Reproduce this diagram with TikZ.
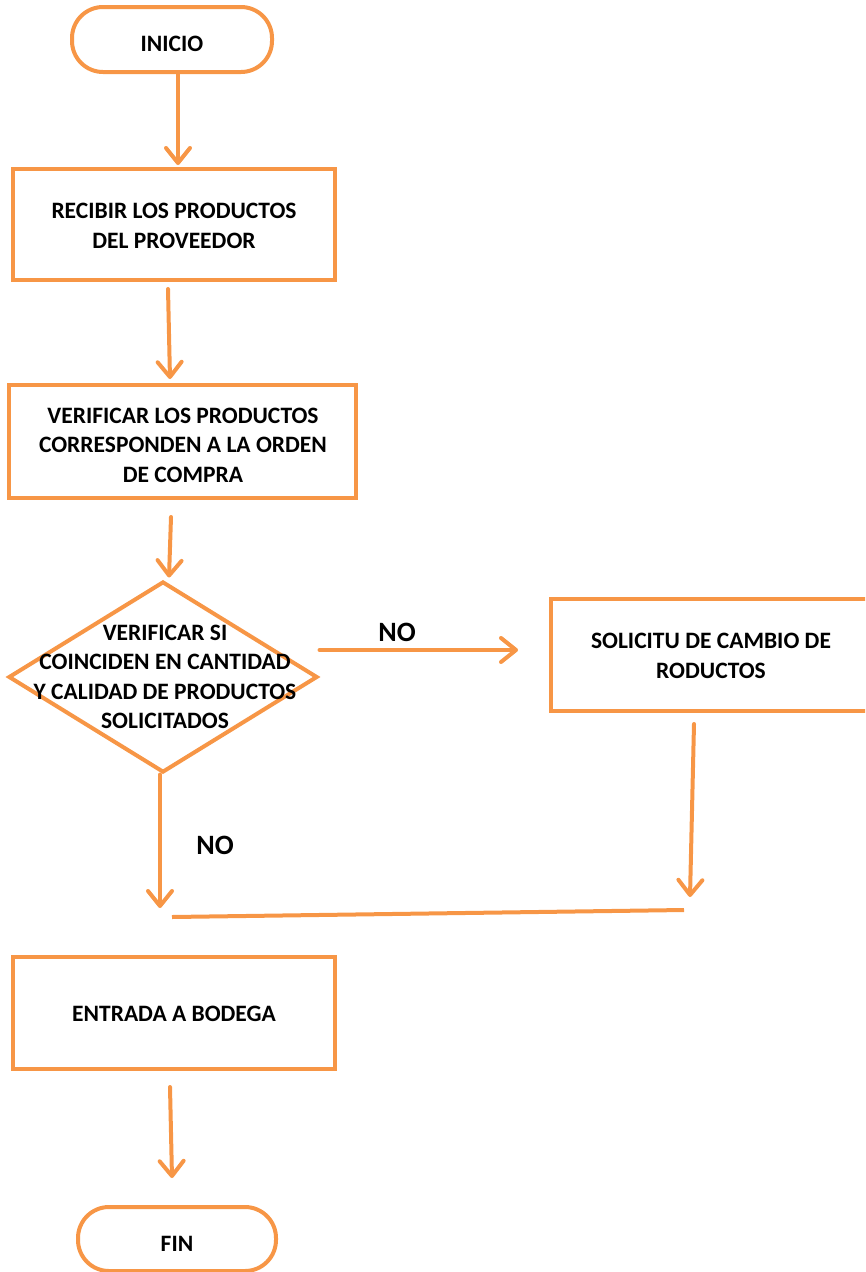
\documentclass[tikz,border=0pt]{standalone}
\usepackage{fontspec}
\setmainfont{Carlito}
\usetikzlibrary{arrows.meta,shapes.geometric}
\definecolor{flow}{HTML}{F79646}
\begin{document}
\begin{tikzpicture}[x=1pt,y=-1pt,
  txt/.style={font=\bfseries\fontsize{23.5}{29.5}\selectfont, align=center, inner sep=0pt},
  bigtxt/.style={font=\bfseries\fontsize{28}{30}\selectfont, inner sep=0pt},
  outline/.style={draw=flow, line width=4pt, fill=white, inner sep=0pt},
  terminal/.style={outline, rounded corners=31pt},
  procbox/.style={outline},
  decision/.style={outline, diamond, line join=miter},
  arr/.style={draw=flow, line width=4pt, line cap=round,
    -{Straight Barb[length=15pt,width=24pt,line cap=round,line join=round]}},
  joinline/.style={draw=flow, line width=4pt},
]
\useasboundingbox (0,0) rectangle (865,1272);
\clip (0,0) rectangle (865,1272);

% shapes
\node[terminal, minimum width=200pt, minimum height=65pt] (inicio) at (172,39.5) {};
\node[txt] (tinicio) at (172,44) {INICIO};

\node[procbox, minimum width=322pt, minimum height=111pt] (recibir) at (174,224.5) {};
\node[txt] (trecibir) at (174,226) {RECIBIR LOS PRODUCTOS\\DEL PROVEEDOR};

\node[procbox, minimum width=347pt, minimum height=113pt] (verif) at (182.5,441.5) {};
\node[txt] (tverif) at (183,445) {VERIFICAR LOS PRODUCTOS\\CORRESPONDEN A LA ORDEN\\DE COMPRA};

\node[decision, minimum width=309pt, minimum height=191pt] (dec) at (163,677) {};
\node[txt] (tdec) at (165,677) {VERIFICAR SI\\COINCIDEN EN CANTIDAD\\Y CALIDAD DE PRODUCTOS\\SOLICITADOS};

\node[procbox, minimum width=321pt, minimum height=112pt] (sol) at (711.5,655) {};
\node[txt] (tsol) at (711,656) {SOLICITU DE CAMBIO DE\\RODUCTOS};

\node[procbox, minimum width=322pt, minimum height=112pt] (ent) at (174,1013) {};
\node[txt] (tent) at (174,1014) {ENTRADA A BODEGA};

\node[terminal, minimum width=198pt, minimum height=64pt] (fin) at (177,1239) {};
\node[txt] (tfin) at (177,1244) {FIN};

% labels
\node[bigtxt] (no1) at (397,632) {NO};
\node[bigtxt] (no2) at (215,845) {NO};

% junction line under the two branches
\coordinate (jl) at (172,917);
\coordinate (jr) at (684,910);

% connectors
\draw[arr] ([xshift=6pt]inicio.south) -- ([xshift=4pt,yshift=2pt]recibir.north);
\draw[arr] ([xshift=-6pt,yshift=-7pt]recibir.south) -- ([xshift=-12.5pt,yshift=4pt]verif.north);
\draw[arr] ([xshift=-11.5pt,yshift=-17pt]verif.south) -- ([xshift=6pt,yshift=2pt]dec.north);
\draw[arr] ([yshift=27pt]dec.east) -- ([xshift=-31pt,yshift=5pt]sol.west);
\draw[arr] ([xshift=-3pt]dec.south) -- ([xshift=-12pt,yshift=9pt]jl);
\draw[arr] ([xshift=-17.5pt,yshift=-11pt]sol.south) -- ([xshift=6pt,yshift=13pt]jr);
\draw[joinline] (jl) -- (jr);
\draw[arr] ([xshift=-4pt,yshift=-16pt]ent.south) -- ([xshift=-5pt,yshift=27pt]fin.north);
\end{tikzpicture}
\end{document}
